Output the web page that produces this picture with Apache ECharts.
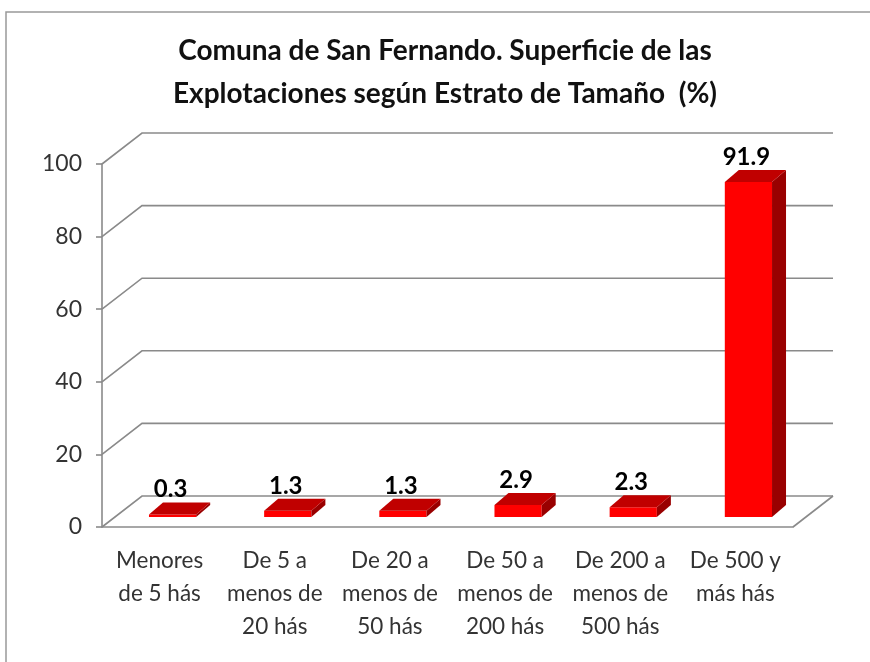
<!DOCTYPE html>
<html>
<head>
<meta charset="utf-8">
<script src="https://cdn.jsdelivr.net/npm/echarts@6/dist/echarts.min.js"></script>
<style>
  html, body { margin: 0; padding: 0; background: #fff; }
  #chart { width: 870px; height: 662px; }
</style>
</head>
<body>
<div id="chart"></div>
<script>
const categories = [
  'Menores\nde 5 hás',
  'De 5 a\nmenos de\n20 hás',
  'De 20 a\nmenos de\n50 hás',
  'De 50 a\nmenos de\n200 hás',
  'De 200 a\nmenos de\n500 hás',
  'De 500 y\nmás hás'
]
const values = [0.3, 1.3, 1.3, 2.9, 2.3, 91.9]
const yTicks = [0, 20, 40, 60, 80, 100]

const FONT = 'Lato, "Open Sans", sans-serif'
const GRAY = '#8a8a8a'
// depth of the back wall and of the bars, in pixels
const WALL = [40, -31]
const BAR_OFF = [13, -10]
const BAR_DEPTH = [14, -12]

const renderGrid = (params, api) => {
  const cs = params.coordSys
  const t = api.value(1)
  const y = api.coord([0, t])[1]
  const x0 = cs.x
  const children = [{
    type: 'polyline',
    shape: { points: [[x0, y], [x0 + WALL[0], y + WALL[1]], [x0 + cs.width + WALL[0], y + WALL[1]]] },
    style: { stroke: GRAY, lineWidth: 1.6, fill: null }
  }]
  if (t === 0) {
    children.push({
      type: 'line',
      shape: { x1: x0 + cs.width, y1: y, x2: x0 + cs.width + WALL[0], y2: y + WALL[1] },
      style: { stroke: GRAY, lineWidth: 1.6 }
    })
  }
  return { type: 'group', children }
}

const renderBar = (params, api) => {
  const idx = api.value(0)
  const val = api.value(1)
  const base = api.coord([idx, 0])
  const top = api.coord([idx, val])
  const w = api.size([1, 0])[0] * 0.41
  const x0 = base[0] - w / 2 + BAR_OFF[0]
  const x1 = x0 + w
  const yb = base[1] + BAR_OFF[1]
  const yt = top[1] + BAR_OFF[1] - 1.5
  const dx = BAR_DEPTH[0], dy = BAR_DEPTH[1]
  return {
    type: 'group',
    children: [
      { type: 'polygon', shape: { points: [[x0, yb], [x1, yb], [x1, yt], [x0, yt]] }, style: { fill: '#ff0000' } },
      { type: 'polygon', shape: { points: [[x1, yb], [x1 + dx, yb + dy], [x1 + dx, yt + dy], [x1, yt]] }, style: { fill: '#990000' } },
      { type: 'polygon', shape: { points: [[x0, yt], [x1, yt], [x1 + dx, yt + dy], [x0 + dx, yt + dy]] }, style: { fill: '#c00000' } },
      {
        type: 'text',
        style: {
          text: val.toFixed(1), x: (x0 + x1) / 2 - 2, y: yt + dy - 13,
          align: 'center', verticalAlign: 'middle',
          font: 'bold 24px ' + FONT, fill: '#000'
        }
      }
    ]
  }
}

const chart = echarts.init(document.getElementById('chart'))
chart.setOption({
  animation: false,
  title: {
    text: 'Comuna de San Fernando. Superficie de las\nExplotaciones según Estrato de Tamaño  (%)',
    left: 445,
    textAlign: 'center',
    top: 29,
    padding: 0,
    textStyle: { fontFamily: FONT, fontSize: 28, fontWeight: 'bold', color: '#111', lineHeight: 43 }
  },
  graphic: [{
    type: 'rect',
    shape: { x: 6, y: 12, width: 900, height: 700 },
    style: { fill: null, stroke: '#999', lineWidth: 1.5 },
    silent: true
  }],
  grid: { left: 102, right: 77, top: 164, bottom: 135 },
  xAxis: {
    type: 'category',
    data: categories,
    axisLine: { lineStyle: { color: GRAY, width: 1.6 } },
    axisTick: { show: false },
    axisLabel: { fontFamily: FONT, fontSize: 22.5, color: '#333', lineHeight: 33, margin: 17, interval: 0 }
  },
  yAxis: {
    type: 'value',
    min: 0,
    max: 100,
    interval: 20,
    axisLine: { show: true, lineStyle: { color: GRAY, width: 1.6 } },
    axisTick: { show: true, length: 6, lineStyle: { color: GRAY, width: 1.6 } },
    splitLine: { show: false },
    axisLabel: { fontFamily: FONT, fontSize: 23, color: '#333', margin: 20 }
  },
  series: [
    {
      type: 'custom',
      renderItem: renderGrid,
      data: yTicks.map(t => [0, t]),
      z: 1,
      silent: true
    },
    {
      type: 'custom',
      renderItem: renderBar,
      data: values.map((v, i) => [i, v]),
      z: 2
    }
  ]
})
</script>
</body>
</html>
